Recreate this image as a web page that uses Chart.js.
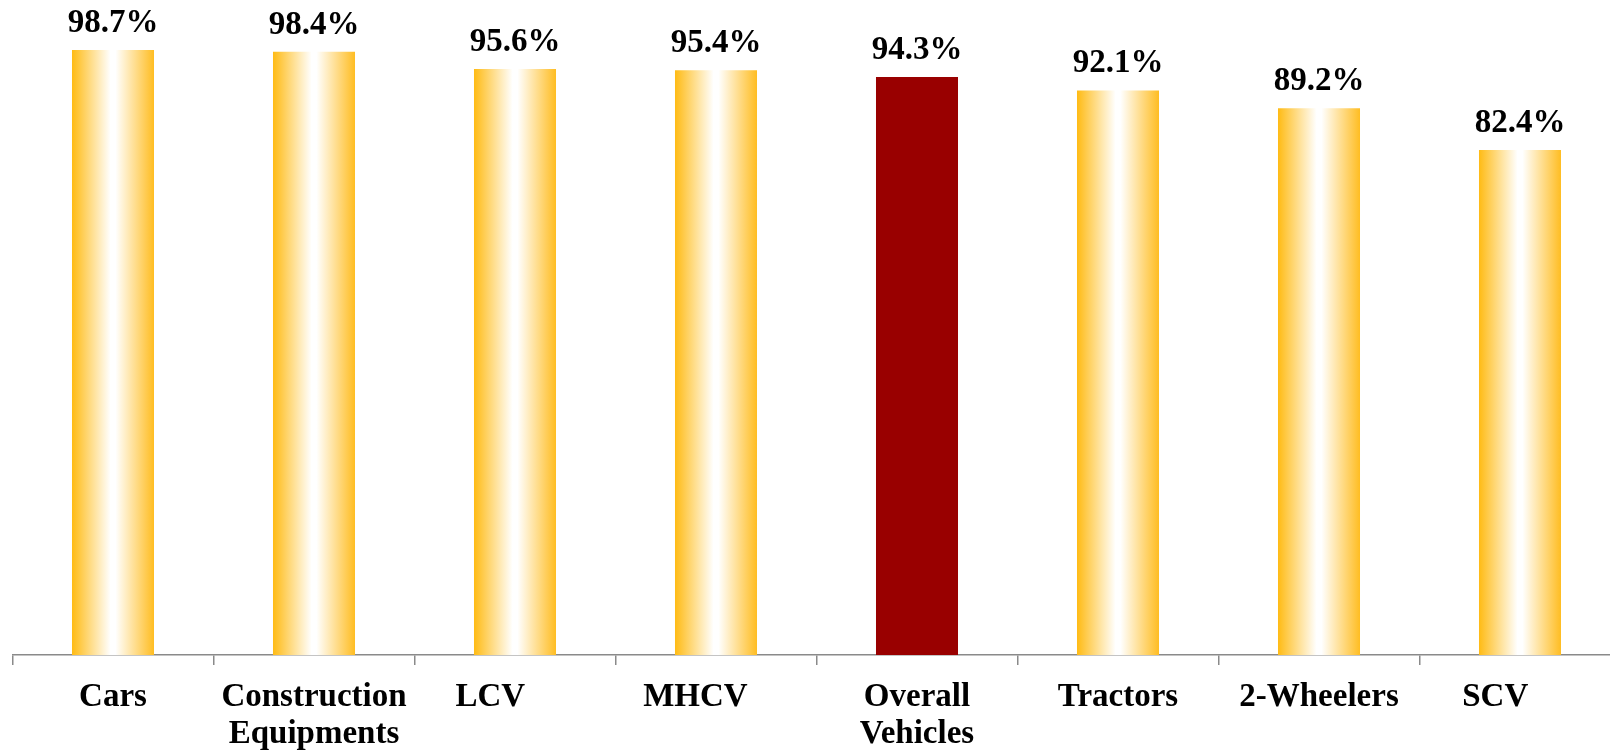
<!DOCTYPE html>
<html>
<head>
<meta charset="utf-8">
<script src="https://cdn.jsdelivr.net/npm/chart.js@4"></script>
<style>
    html, body { margin: 0; padding: 0; overflow: hidden; background: #fff; }
    #wrap { position: relative; width: 1622px; height: 753px; }
</style>
</head>
<body>
<div id="wrap"><canvas id="shareChart"></canvas></div>
<script>
// Categories (trailing spaces keep the original label offsets)
const categories = [
    'Cars',
    ['Construction', 'Equipments'],
    'LCV      ',
    'MHCV     ',
    ['Overall', 'Vehicles'],
    'Tractors',
    '2-Wheelers',
    'SCV      '
];

const shareValues = [98.7, 98.4, 95.6, 95.4, 94.3, 92.1, 89.2, 82.4];

const highlightIndex = 4; // Overall Vehicles

const fontFamily = '"Liberation Serif", "Times New Roman", serif';

// Orange-white-orange gradient for each bar
function barColor(context) {
    if (context.dataIndex === highlightIndex) {
        return '#990000';
    }
    const chart = context.chart;
    const xScale = chart.scales.x;
    if (!chart.chartArea || !xScale) {
        return '#FFBE1E';
    }
    const center = xScale.getPixelForValue(context.dataIndex);
    const half = 41;
    const g = chart.ctx.createLinearGradient(center - half, 0, center + half, 0);
    g.addColorStop(0, '#FFBB14');
    g.addColorStop(0.47, '#FFFFFF');
    g.addColorStop(0.53, '#FFFFFF');
    g.addColorStop(1, '#FFBD22');
    return g;
}

// Value labels above the bars
const valueLabels = {
    id: 'valueLabels',
    afterDatasetsDraw(chart) {
        const ctx = chart.ctx;
        const meta = chart.getDatasetMeta(0);
        ctx.save();
        ctx.font = 'bold 33px ' + fontFamily;
        ctx.fillStyle = '#000';
        ctx.textAlign = 'center';
        ctx.textBaseline = 'alphabetic';
        meta.data.forEach(function(bar, i) {
            ctx.fillText(shareValues[i].toFixed(1) + '%', bar.x, bar.y - 18);
        });
        ctx.restore();
    }
};

const ctx = document.getElementById('shareChart').getContext('2d');

new Chart(ctx, {
    type: 'bar',
    data: {
        labels: categories,
        datasets: [{
            data: shareValues,
            backgroundColor: barColor,
            borderWidth: 0,
            categoryPercentage: 1.0,
            barPercentage: 0.408
        }]
    },
    options: {
        responsive: true,
        maintainAspectRatio: false,
        animation: false,
        layout: {
            padding: { top: 42, left: 12.5, right: 1.5, bottom: 0 }
        },
        plugins: {
            legend: { display: false },
            tooltip: { enabled: false }
        },
        scales: {
            y: {
                display: false,
                min: 0,
                max: 100
            },
            x: {
                afterFit: function(scale) {
                    scale.height = 98;
                },
                border: {
                    display: true,
                    color: '#8a8a8a',
                    width: 1.5
                },
                grid: {
                    display: true,
                    drawOnChartArea: false,
                    drawTicks: true,
                    tickLength: 10,
                    color: '#8a8a8a',
                    lineWidth: 1.5
                },
                ticks: {
                    color: '#000',
                    padding: 14,
                    maxRotation: 0,
                    autoSkip: false,
                    font: {
                        family: fontFamily,
                        size: 33,
                        weight: 'bold',
                        lineHeight: 1.12
                    }
                }
            }
        }
    },
    plugins: [valueLabels]
});
</script>
</body>
</html>
